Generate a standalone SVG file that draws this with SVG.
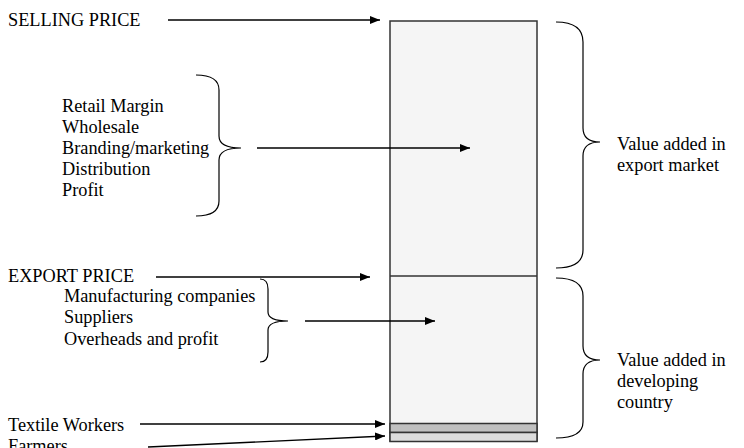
<svg xmlns="http://www.w3.org/2000/svg" width="744" height="448" viewBox="0 0 744 448">
  <defs>
    <marker id="arrow" viewBox="0 0 10 8" refX="10" refY="4" markerWidth="10" markerHeight="8" markerUnits="userSpaceOnUse" orient="auto">
      <path d="M0,0 L10,4 L0,8 Z" fill="#000"/>
    </marker>
    <style>
      .lbl { font-family: 'Liberation Serif', 'Times New Roman', serif; font-size: 18.3px; fill: #000; }
      .arrow { stroke: #000; stroke-width: 1.3; fill: none; marker-end: url(#arrow); }
      .brace { stroke: #000; stroke-width: 1.2; fill: none; }
      .bar { stroke: #333; stroke-width: 1.5; }
    </style>
  </defs>
  <rect width="744" height="448" fill="#fff"/>

  <!-- price column -->
  <g id="price-bar">
    <rect class="bar" x="390" y="21" width="147" height="420" fill="#f5f5f5"/>
    <line class="bar" x1="390" y1="276" x2="537" y2="276"/>
    <rect class="bar" x="390" y="423.5" width="147" height="9" fill="#c0c0c0"/>
    <rect class="bar" x="390" y="432.5" width="147" height="9" fill="#dcdcdc"/>
  </g>

  <g class="lbl" font-family="Liberation Serif, Times New Roman, serif">
    <g id="selling-price"><text x="8" y="26">SELLING PRICE</text></g>
    <g id="export-price"><text x="8" y="282">EXPORT PRICE</text></g>
    <g id="textile-workers"><text x="8" y="431">Textile Workers</text></g>
    <g id="farmers"><text x="8" y="452">Farmers</text></g>

    <g id="export-costs">
      <text x="62" y="112">Retail Margin</text>
      <text x="62" y="133">Wholesale</text>
      <text x="62" y="154">Branding/marketing</text>
      <text x="62" y="175">Distribution</text>
      <text x="62" y="196">Profit</text>
      <path class="brace" d="M196,75 Q219,75 219,90 L219,136 Q219,148 241,148 Q219,148 219,160 L219,201 Q219,216 196,216"/>
    </g>

    <g id="developing-costs">
      <text x="64" y="302">Manufacturing companies</text>
      <text x="64" y="323">Suppliers</text>
      <text x="64" y="345">Overheads and profit</text>
      <path class="brace" d="M260,279 Q268,279 268,289 L268,312 Q268,321 288,321 Q268,321 268,330 L268,352 Q268,362 260,362"/>
    </g>

    <g id="export-market">
      <path class="brace" d="M556,22 Q583,22 583,42 L583,128 Q583,142 600,142 Q583,142 583,156 L583,250 Q583,268 556,268"/>
      <text x="617" y="150">Value added in</text>
      <text x="617" y="171">export market</text>
    </g>

    <g id="developing-country">
      <path class="brace" d="M556,278 Q583,278 583,296 L583,346 Q583,360 600,360 Q583,360 583,374 L583,422 Q583,438 556,438"/>
      <text x="617" y="366">Value added in</text>
      <text x="617" y="387">developing</text>
      <text x="617" y="408">country</text>
    </g>
  </g>

  <g id="connectors">
    <line class="arrow" x1="168" y1="20" x2="380" y2="20"/>
    <line class="arrow" x1="156" y1="277" x2="370" y2="277"/>
    <line class="arrow" x1="257" y1="148" x2="470" y2="148"/>
    <line class="arrow" x1="305" y1="321" x2="435" y2="321"/>
    <line class="arrow" x1="140" y1="424" x2="385" y2="424"/>
    <line class="arrow" x1="148" y1="447" x2="385" y2="436"/>
  </g>
</svg>
